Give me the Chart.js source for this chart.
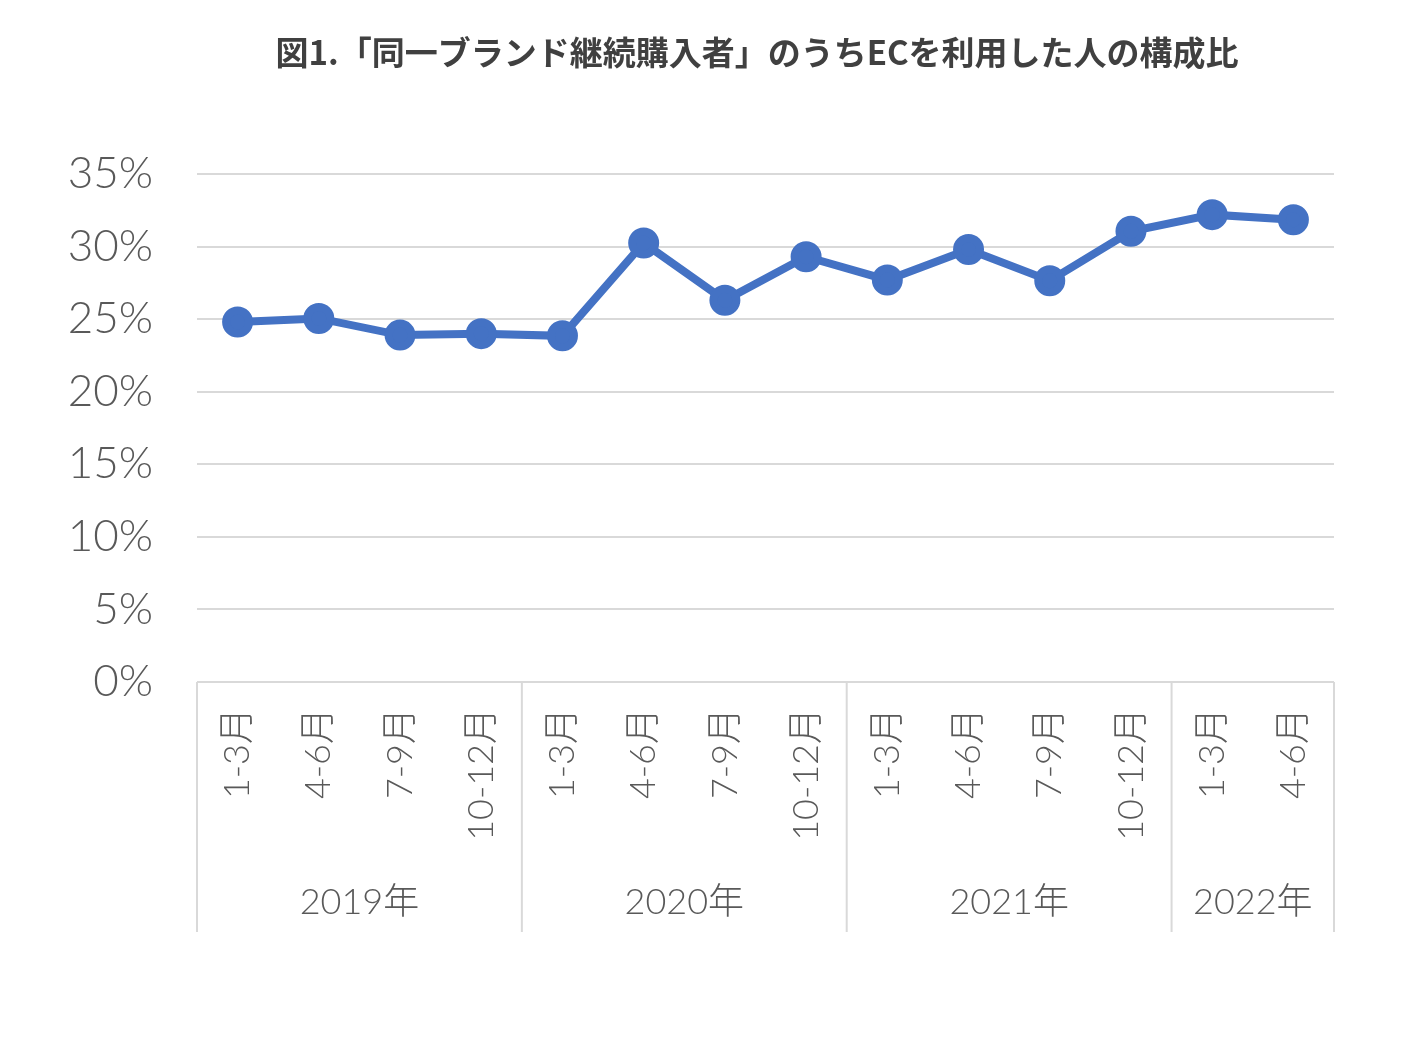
<!DOCTYPE html>
<html lang="ja">
<head>
<meta charset="utf-8">
<script src="https://cdn.jsdelivr.net/npm/chart.js@4"></script>
<style>
  html, body { margin: 0; padding: 0; background: #fff; }
  #wrap { width: 1424px; height: 1062px; }
</style>
</head>
<body>
<div id="wrap"><canvas id="ecChart" width="1424" height="1062"></canvas></div>
<script>
// chart data
const quarters = ["1-3月", "4-6月", "7-9月", "10-12月", "1-3月", "4-6月", "7-9月", "10-12月",
  "1-3月", "4-6月", "7-9月", "10-12月", "1-3月", "4-6月"];
const years = ["2019年", "2020年", "2021年", "2022年"];
const quartersPerYear = [4, 4, 4, 2];
const ecShare = [24.8, 25.05, 23.9, 24.0, 23.85, 30.25, 26.3, 29.3, 27.7, 29.8, 27.65, 31.05, 32.2, 31.85];
const yTicks = [0, 5, 10, 15, 20, 25, 30, 35];
const chartTitle = "図1.「同一ブランド継続購入者」のうちECを利用した人の構成比";

const TEXT_GRAY = "#595959";
const GRID_GRAY = "#d9d9d9";
const LINE_BLUE = "#4472c4";
const LATIN = "Lato, 'Noto Sans CJK JP', sans-serif";

// title (centred like the original, not on the plot) plus year row and separators
const yearGroups = {
  id: "yearGroups",
  afterDraw(chart) {
    const { ctx, chartArea, scales } = chart;
    const x = scales.x;
    const bottom = x.bottom;
    const bounds = [chartArea.left];
    let idx = 0;
    quartersPerYear.forEach((n, i) => {
      idx += n;
      if (i < quartersPerYear.length - 1) {
        bounds.push((x.getPixelForValue(idx - 1) + x.getPixelForValue(idx)) / 2);
      }
    });
    bounds.push(chartArea.right);

    ctx.save();
    ctx.strokeStyle = GRID_GRAY;
    ctx.lineWidth = 2;
    bounds.forEach((bx) => {
      ctx.beginPath();
      ctx.moveTo(bx, chartArea.bottom);
      ctx.lineTo(bx, bottom);
      ctx.stroke();
    });

    ctx.fillStyle = TEXT_GRAY;
    ctx.font = "300 36px " + LATIN;
    ctx.textAlign = "center";
    ctx.textBaseline = "middle";
    years.forEach((label, i) => {
      ctx.fillText(label, (bounds[i] + bounds[i + 1]) / 2, bottom - 30);
    });

    ctx.fillStyle = "#404040";
    ctx.font = "bold 33px 'Noto Sans CJK JP', sans-serif";
    ctx.fillText(chartTitle, 757, 52);
    ctx.restore();
  },
};

new Chart(document.getElementById("ecChart"), {
  type: "line",
  data: {
    labels: quarters,
    datasets: [
      {
        label: "ECを利用した人の構成比",
        data: ecShare,
        borderColor: LINE_BLUE,
        backgroundColor: LINE_BLUE,
        borderWidth: 8,
        pointRadius: 11.5,
        pointHoverRadius: 11.5,
        tension: 0,
      },
    ],
  },
  options: {
    responsive: false,
    animation: false,
    layout: {
      padding: { left: 60, right: 90, top: 174, bottom: 130 },
    },
    plugins: {
      legend: { display: false },
      tooltip: { enabled: false },
      title: { display: false },
    },
    scales: {
      x: {
        offset: true,
        grid: { display: false },
        border: { display: false },
        ticks: {
          color: TEXT_GRAY,
          font: { family: LATIN, size: 36, weight: "300" },
          minRotation: 90,
          maxRotation: 90,
          padding: 18,
          autoSkip: false,
        },
        afterFit(scale) {
          scale.height = 250;
        },
      },
      y: {
        min: 0,
        max: 35,
        afterBuildTicks(scale) {
          scale.ticks = yTicks.map((v) => ({ value: v }));
        },
        grid: { color: GRID_GRAY, lineWidth: 2, drawTicks: false },
        border: { display: false },
        ticks: {
          color: TEXT_GRAY,
          font: { family: LATIN, size: 44, weight: "300" },
          padding: 44,
          callback: (v) => v + "%",
        },
        afterFit(scale) {
          scale.width = 137;
        },
      },
    },
  },
  plugins: [yearGroups],
});
</script>
</body>
</html>
